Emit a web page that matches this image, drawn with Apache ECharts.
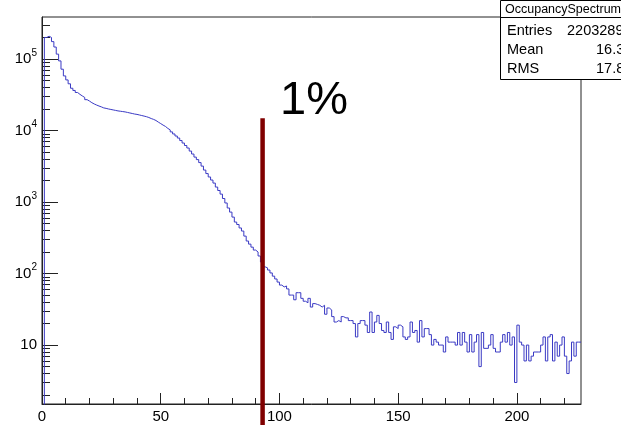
<!DOCTYPE html>
<html>
<head>
<meta charset="utf-8">
<script src="https://cdn.jsdelivr.net/npm/echarts@6/dist/echarts.min.js"></script>
<style>
  html, body { margin: 0; padding: 0; background: #fff; }
  #main { width: 621px; height: 425px; }
</style>
</head>
<body>
<div id="main"></div>
<script>
// bin contents of OccupancySpectrum, one bin per unit, bins 0..226
var counts = [
  1,
  200000, 208000, 200000, 175000, 147000, 117000, 94000, 72000, 58000, 51000,
  45000, 39000, 36300, 34000, 32000, 30400, 29000, 27000, 25800, 24500,
  23500, 22700, 22000, 21400, 20700, 20400, 20000, 19700, 19400, 19100,
  18800, 18600, 18400, 18200, 17900, 17600, 17300, 17000, 16800, 16500,
  16200, 15900, 15600, 15200, 14700, 14300, 13800, 13100, 12500, 11900,
  11400, 10700, 10200, 9560, 8950, 8380, 7850, 7240, 6680, 6170,
  5690, 5160, 4690, 4250, 3920, 3560, 3180, 2800, 2500, 2240,
  2030, 1840, 1620, 1450, 1290, 1120, 970, 825, 723, 616,
  525, 485, 434, 393, 334, 285, 258, 234, 213, 200,
  176, 145, 124, 120, 112, 102, 92, 84, 76, 69,
  65, 67, 61, 50, 50, 43, 54, 54, 45, 41,
  39, 45, 34, 38, 37, 36, 34, 36, 27, 33,
  31, 25, 21, 22, 21, 25, 24, 24, 22, 22,
  20, 13, 20, 22, 22, 19, 15, 29, 15, 21,
  26, 20, 16, 15, 21, 15, 12, 18, 17, 19,
  18, 13, 12, 13, 21, 15, 16, 11, 22, 13,
  17, 17, 14, 10, 12, 11, 10, 10, 8, 13,
  11, 11, 11, 10, 15, 10, 15, 11, 8, 14,
  8, 11, 14, 5, 15, 9, 9, 10, 14, 9,
  8, 8, 11, 14, 11, 15, 10, 13, 3, 19,
  11, 10, 6, 10, 6, 7, 8, 8, 8, 10,
  13, 6, 13, 14, 6, 11, 7, 10, 13, 7,
  4, 6, 11, 7, 11, 11
];

// 1% cut line
var cutX = 92.9;
var cutTop = 14900;
var cutBottom = 0.75;
var cutText = '1%';

// axis ticks
var xMajor = [0, 50, 100, 150, 200];
var xMinor = [10, 20, 30, 40, 60, 70, 80, 90, 110, 120, 130, 140, 160, 170, 180, 190, 210, 220];
var yMajor = [10, 100, 1000, 10000, 100000];
var yMinorMult = [2, 3, 4, 5, 6, 7, 8, 9];
var yDecades = [1, 10, 100, 1000, 10000, 100000];

// stats box
var statsTitle = 'OccupancySpectrum';
var statsNames = ['Entries', 'Mean', 'RMS'];
var statsValues = ['2203289', '16.3', '17.8'];

var xMin = 0, xMax = 227;
var yMin = 1.5, yMax = 386500;

var yMinor = [];
yDecades.forEach(function (d) {
  yMinorMult.forEach(function (m) {
    if (d * m > yMin && d * m < yMax) yMinor.push(d * m);
  });
});

// step points: left edge of each bin, plus closing point at the right edge
var histData = counts.map(function (v, i) { return [i, v]; });
histData.push([counts.length, counts[counts.length - 1]]);

var font = 'Liberation Sans, Arial, Helvetica, sans-serif';
var axisColor = '#222';

var myChart = echarts.init(document.getElementById('main'));

var option = {
  animation: false,
  backgroundColor: '#fff',
  grid: {
    left: 42, right: 40, top: 17, bottom: 21,
    show: true, borderColor: axisColor, borderWidth: 1, backgroundColor: 'transparent'
  },
  xAxis: [
    {
      type: 'value', min: xMin, max: xMax,
      splitLine: { show: false },
      axisLine: { show: true, lineStyle: { color: axisColor, width: 1 } },
      axisTick: { show: true, inside: true, length: 11, customValues: xMajor, lineStyle: { color: axisColor } },
      axisLabel: {
        customValues: xMajor, margin: 5,
        fontFamily: font, fontSize: 15, color: '#000'
      }
    },
    {
      type: 'value', min: xMin, max: xMax, position: 'bottom',
      splitLine: { show: false },
      axisLine: { show: false },
      axisTick: { show: true, inside: true, length: 6, customValues: xMinor, lineStyle: { color: axisColor } },
      axisLabel: { show: false }
    }
  ],
  yAxis: [
    {
      type: 'log', logBase: 10, min: yMin, max: yMax,
      splitLine: { show: false },
      axisLine: { show: true, lineStyle: { color: axisColor, width: 1 } },
      axisTick: { show: true, inside: true, length: 16, customValues: yMajor, lineStyle: { color: axisColor } },
      axisLabel: {
        customValues: yMajor, margin: 5,
        formatter: function (v) {
          var p = Math.round(Math.log10(v));
          return p === 1 ? '{b|10}' : '{b|10}{sup|' + p + '}';
        },
        rich: {
          b: { fontFamily: font, fontSize: 15, lineHeight: 22, color: '#000' },
          sup: { fontFamily: font, fontSize: 10, lineHeight: 10, verticalAlign: 'top', color: '#000' }
        }
      }
    },
    {
      type: 'log', logBase: 10, min: yMin, max: yMax, position: 'left',
      splitLine: { show: false },
      axisLine: { show: false },
      axisTick: { show: true, inside: true, length: 8, customValues: yMinor, lineStyle: { color: axisColor } },
      axisLabel: { show: false }
    }
  ],
  series: [
    {
      name: 'OccupancySpectrum',
      type: 'line',
      step: 'end',
      data: histData,
      symbol: 'none',
      lineStyle: { color: '#3a3ac4', width: 1 },
      silent: true,
      z: 2
    },
    {
      name: 'cut',
      type: 'line',
      data: [[cutX, cutTop], [cutX, cutBottom]],
      symbol: 'none',
      clip: false,
      lineStyle: { color: '#800000', width: 4.5 },
      silent: true,
      z: 3
    }
  ],
  graphic: [
    {
      type: 'text', left: 280, top: 78,
      style: { text: cutText, fontFamily: font, fontSize: 47, fill: '#000' },
      z: 10
    },
    {
      type: 'rect', shape: { x: 500.5, y: 0.5, width: 140, height: 79 },
      style: { fill: '#fff', stroke: '#000', lineWidth: 1 }, z: 10
    },
    {
      type: 'line', shape: { x1: 500.5, y1: 17.5, x2: 640, y2: 17.5 },
      style: { stroke: '#000', lineWidth: 1 }, z: 11
    },
    {
      type: 'text', x: 505, y: 9.5,
      style: { text: statsTitle, fontFamily: font, fontSize: 12.5, fill: '#000', verticalAlign: 'middle' }, z: 11
    },
    {
      type: 'text', x: 507, y: 31,
      style: { text: statsNames[0], fontFamily: font, fontSize: 14.5, fill: '#000', verticalAlign: 'middle' }, z: 11
    },
    {
      type: 'text', x: 567, y: 31,
      style: { text: statsValues[0], fontFamily: font, fontSize: 14.5, fill: '#000', verticalAlign: 'middle' }, z: 11
    },
    {
      type: 'text', x: 507, y: 50,
      style: { text: statsNames[1], fontFamily: font, fontSize: 14.5, fill: '#000', verticalAlign: 'middle' }, z: 11
    },
    {
      type: 'text', x: 596, y: 50,
      style: { text: statsValues[1], fontFamily: font, fontSize: 14.5, fill: '#000', verticalAlign: 'middle' }, z: 11
    },
    {
      type: 'text', x: 507, y: 69,
      style: { text: statsNames[2], fontFamily: font, fontSize: 14.5, fill: '#000', verticalAlign: 'middle' }, z: 11
    },
    {
      type: 'text', x: 596, y: 69,
      style: { text: statsValues[2], fontFamily: font, fontSize: 14.5, fill: '#000', verticalAlign: 'middle' }, z: 11
    }
  ]
};

myChart.setOption(option);
</script>
</body>
</html>
